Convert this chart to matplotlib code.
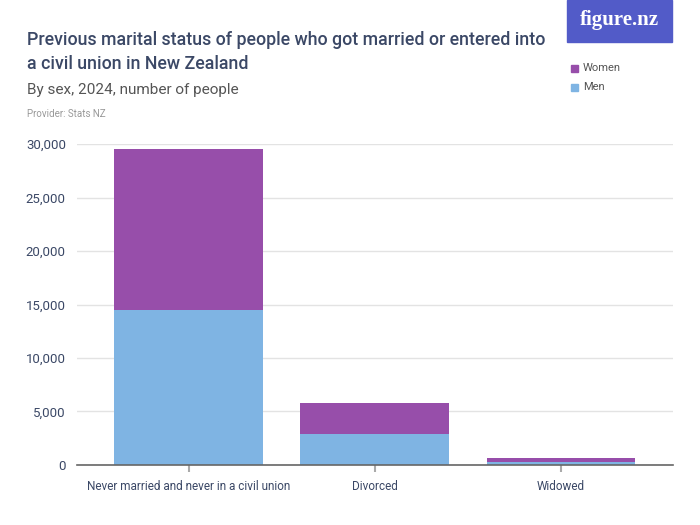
import matplotlib.pyplot as plt
from matplotlib.patches import Rectangle
from matplotlib.ticker import FuncFormatter

# Data
categories = ['Never married and never in a civil union', 'Divorced', 'Widowed']
men = [14500, 2900, 290]
women = [15000, 2850, 340]

men_color = '#7fb4e3'
women_color = '#974eaa'
text_color = '#3b4866'

plt.rcParams['font.family'] = ['Roboto', 'DejaVu Sans']

fig = plt.figure(figsize=(7, 5.25), dpi=100)
ax = fig.add_axes([0.11, 0.1143, 0.851, 0.6114])

x = range(len(categories))
ax.bar(x, men, width=0.8, color=men_color, zorder=2)
ax.bar(x, women, width=0.8, bottom=men, color=women_color, zorder=2)

ax.set_xlim(-0.6, 2.6)
ax.set_ylim(0, 30000)
ax.set_yticks(range(0, 30001, 5000))
ax.yaxis.set_major_formatter(FuncFormatter(lambda v, p: f'{int(v):,}'))
ax.set_xticks(list(x))
ax.set_xticklabels(categories)

ax.grid(axis='y', color='#e3e3e3', linewidth=1, zorder=0)
ax.set_axisbelow(True)
for s in ['top', 'right', 'left']:
    ax.spines[s].set_visible(False)
ax.spines['bottom'].set_color('#666666')
ax.spines['bottom'].set_linewidth(1.2)
ax.tick_params(axis='y', length=0, pad=8, labelsize=9.5, labelcolor=text_color)
ax.tick_params(axis='x', length=5, width=1.5, color='#aaaaaa', pad=6,
               labelsize=8.5, labelcolor=text_color)

# Titles
fig.text(27 / 700, 1 - 45 / 525, 'Previous marital status of people who got married or entered into',
         fontsize=12.8, fontweight='medium', color=text_color, va='baseline')
fig.text(27 / 700, 1 - 69 / 525, 'a civil union in New Zealand',
         fontsize=12.8, fontweight='medium', color=text_color, va='baseline')
fig.text(27 / 700, 1 - 94 / 525, 'By sex, 2024, number of people',
         fontsize=11, color='#555555', va='baseline')
fig.text(27 / 700, 1 - 117 / 525, 'Provider: Stats NZ',
         fontsize=7, color='#999999', va='baseline')

# Logo
fig.patches.append(Rectangle((567 / 700, 1 - 42 / 525), 105 / 700, 42 / 525,
                             transform=fig.transFigure, color='#525bc8', zorder=5))
fig.text(619 / 700, 1 - 20 / 525, 'figure.nz', fontsize=15, fontweight='bold',
         family=['Liberation Serif', 'DejaVu Serif'], color='white',
         ha='center', va='center', zorder=6)

# Legend
for i, (lab, col) in enumerate([('Women', women_color), ('Men', men_color)]):
    yc = 68 + i * 19
    fig.patches.append(Rectangle((571 / 700, 1 - (yc + 4) / 525), 7 / 700, 7 / 525,
                                 transform=fig.transFigure, color=col))
    fig.text(583 / 700, 1 - yc / 525, lab, fontsize=8, color='#555555', va='center')

fig.savefig('out.png', dpi=100)
